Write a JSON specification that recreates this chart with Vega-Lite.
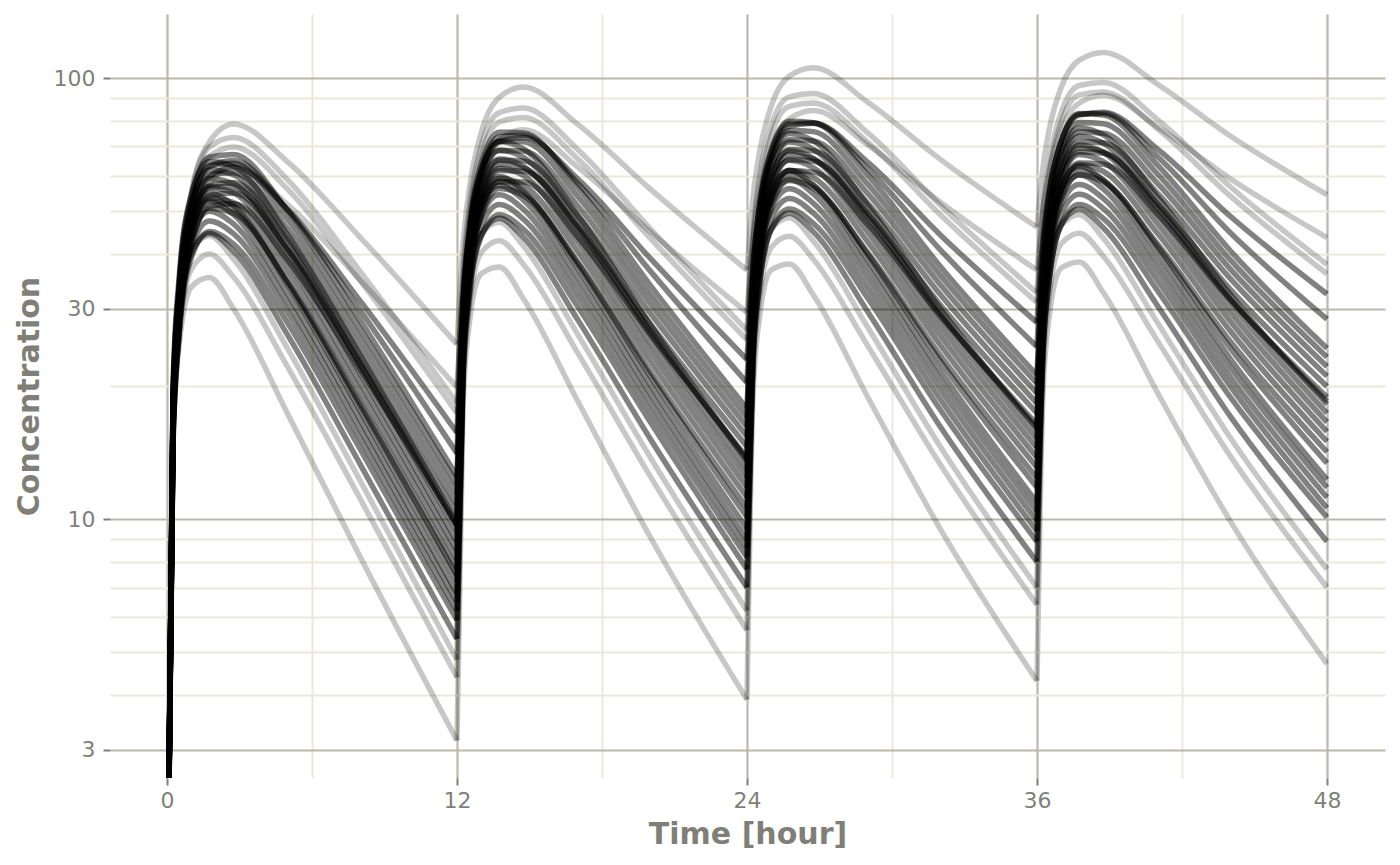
{
"$schema":"https://vega.github.io/schema/vega-lite/v6.json",
"width":1275,"height":764,
"autosize":{"type":"none"},
"padding":{"left":110,"top":14,"right":15,"bottom":87},
"background":"white",
"config":{"view":{"stroke":null},"font":"DejaVu Sans"},
"data":{"values":[
{"id":1,"d":1,"t":0,"c":1},{"id":1,"d":1,"t":0.25,"c":15.2},{"id":1,"d":1,"t":0.5,"c":24.7},{"id":1,"d":1,"t":1,"c":33.6},{"id":1,"d":1,"t":1.75,"c":35.3},{"id":1,"d":1,"t":2.75,"c":30.0},{"id":1,"d":1,"t":5,"c":17.3},{"id":1,"d":1,"t":8,"c":8.2},{"id":1,"d":1,"t":12,"c":3.15},{"id":1,"d":2,"t":12,"c":3.15},{"id":1,"d":2,"t":12.25,"c":18.1},{"id":1,"d":2,"t":12.5,"c":27.5},{"id":1,"d":2,"t":13,"c":36.0},{"id":1,"d":2,"t":13.75,"c":37.3},{"id":1,"d":2,"t":14.75,"c":31.6},{"id":1,"d":2,"t":17,"c":18.5},{"id":1,"d":2,"t":20,"c":9.1},{"id":1,"d":2,"t":24,"c":3.9},{"id":1,"d":3,"t":24,"c":3.9},{"id":1,"d":3,"t":24.25,"c":18.9},{"id":1,"d":3,"t":24.5,"c":28.2},{"id":1,"d":3,"t":25,"c":36.7},{"id":1,"d":3,"t":25.75,"c":37.9},{"id":1,"d":3,"t":26.75,"c":32.2},{"id":1,"d":3,"t":29,"c":18.9},{"id":1,"d":3,"t":32,"c":9.5},{"id":1,"d":3,"t":36,"c":4.3},{"id":1,"d":4,"t":36,"c":4.3},{"id":1,"d":4,"t":36.25,"c":19.3},{"id":1,"d":4,"t":36.5,"c":28.6},{"id":1,"d":4,"t":37,"c":37.1},{"id":1,"d":4,"t":37.75,"c":38.3},{"id":1,"d":4,"t":38.75,"c":32.6},{"id":1,"d":4,"t":41,"c":19.3},{"id":1,"d":4,"t":44,"c":9.9},{"id":1,"d":4,"t":48,"c":4.7},
{"id":2,"d":1,"t":0,"c":1},{"id":2,"d":1,"t":0.25,"c":15.7},{"id":2,"d":1,"t":0.5,"c":26.1},{"id":2,"d":1,"t":1,"c":36.8},{"id":2,"d":1,"t":1.75,"c":39.9},{"id":2,"d":1,"t":2.75,"c":35.4},{"id":2,"d":1,"t":5,"c":22.1},{"id":2,"d":1,"t":8,"c":11.1},{"id":2,"d":1,"t":12,"c":4.38},{"id":2,"d":2,"t":12,"c":4.38},{"id":2,"d":2,"t":12.25,"c":19.8},{"id":2,"d":2,"t":12.5,"c":30.0},{"id":2,"d":2,"t":13,"c":40.2},{"id":2,"d":2,"t":13.75,"c":42.8},{"id":2,"d":2,"t":14.75,"c":37.8},{"id":2,"d":2,"t":17,"c":23.8},{"id":2,"d":2,"t":20,"c":12.5},{"id":2,"d":2,"t":24,"c":5.6},{"id":2,"d":3,"t":24,"c":5.6},{"id":2,"d":3,"t":24.25,"c":21.0},{"id":2,"d":3,"t":24.5,"c":31.1},{"id":2,"d":3,"t":25,"c":41.3},{"id":2,"d":3,"t":25.75,"c":43.8},{"id":2,"d":3,"t":26.75,"c":38.8},{"id":2,"d":3,"t":29,"c":24.7},{"id":2,"d":3,"t":32,"c":13.3},{"id":2,"d":3,"t":36,"c":6.4},{"id":2,"d":4,"t":36,"c":6.4},{"id":2,"d":4,"t":36.25,"c":21.8},{"id":2,"d":4,"t":36.5,"c":31.9},{"id":2,"d":4,"t":37,"c":42.1},{"id":2,"d":4,"t":37.75,"c":44.5},{"id":2,"d":4,"t":38.75,"c":39.4},{"id":2,"d":4,"t":41,"c":25.3},{"id":2,"d":4,"t":44,"c":13.9},{"id":2,"d":4,"t":48,"c":7.0},
{"id":3,"d":1,"t":0,"c":1},{"id":3,"d":1,"t":0.25,"c":17.3},{"id":3,"d":1,"t":0.5,"c":28.7},{"id":3,"d":1,"t":1,"c":40.5},{"id":3,"d":1,"t":1.75,"c":43.9},{"id":3,"d":1,"t":2.75,"c":38.9},{"id":3,"d":1,"t":5,"c":24.3},{"id":3,"d":1,"t":8,"c":12.2},{"id":3,"d":1,"t":12,"c":4.8},{"id":3,"d":2,"t":12,"c":4.8},{"id":3,"d":2,"t":12.25,"c":21.8},{"id":3,"d":2,"t":12.5,"c":33.0},{"id":3,"d":2,"t":13,"c":44.2},{"id":3,"d":2,"t":13.75,"c":47.1},{"id":3,"d":2,"t":14.75,"c":41.6},{"id":3,"d":2,"t":17,"c":26.2},{"id":3,"d":2,"t":20,"c":13.8},{"id":3,"d":2,"t":24,"c":6.2},{"id":3,"d":3,"t":24,"c":6.2},{"id":3,"d":3,"t":24.25,"c":23.1},{"id":3,"d":3,"t":24.5,"c":34.2},{"id":3,"d":3,"t":25,"c":45.4},{"id":3,"d":3,"t":25.75,"c":48.2},{"id":3,"d":3,"t":26.75,"c":42.7},{"id":3,"d":3,"t":29,"c":27.2},{"id":3,"d":3,"t":32,"c":14.6},{"id":3,"d":3,"t":36,"c":7.0},{"id":3,"d":4,"t":36,"c":7.0},{"id":3,"d":4,"t":36.25,"c":24.0},{"id":3,"d":4,"t":36.5,"c":35.1},{"id":3,"d":4,"t":37,"c":46.3},{"id":3,"d":4,"t":37.75,"c":49.0},{"id":3,"d":4,"t":38.75,"c":43.3},{"id":3,"d":4,"t":41,"c":27.8},{"id":3,"d":4,"t":44,"c":15.3},{"id":3,"d":4,"t":48,"c":7.7},
{"id":4,"d":1,"t":0,"c":1},{"id":4,"d":1,"t":0.25,"c":15.4},{"id":4,"d":1,"t":0.5,"c":26.3},{"id":4,"d":1,"t":1,"c":39.1},{"id":4,"d":1,"t":1.75,"c":44.9},{"id":4,"d":1,"t":2.75,"c":42.0},{"id":4,"d":1,"t":5,"c":27.8},{"id":4,"d":1,"t":8,"c":14.4},{"id":4,"d":1,"t":12,"c":5.9},{"id":4,"d":2,"t":12,"c":5.9},{"id":4,"d":2,"t":12.25,"c":20.9},{"id":4,"d":2,"t":12.5,"c":31.5},{"id":4,"d":2,"t":13,"c":43.7},{"id":4,"d":2,"t":13.75,"c":49.0},{"id":4,"d":2,"t":14.75,"c":45.4},{"id":4,"d":2,"t":17,"c":30.3},{"id":4,"d":2,"t":20,"c":16.6},{"id":4,"d":2,"t":24,"c":7.7},{"id":4,"d":3,"t":24,"c":7.7},{"id":4,"d":3,"t":24.25,"c":22.8},{"id":4,"d":3,"t":24.5,"c":33.2},{"id":4,"d":3,"t":25,"c":45.4},{"id":4,"d":3,"t":25.75,"c":50.5},{"id":4,"d":3,"t":26.75,"c":46.8},{"id":4,"d":3,"t":29,"c":31.7},{"id":4,"d":3,"t":32,"c":17.7},{"id":4,"d":3,"t":36,"c":8.9},{"id":4,"d":4,"t":36,"c":8.9},{"id":4,"d":4,"t":36.25,"c":23.9},{"id":4,"d":4,"t":36.5,"c":34.4},{"id":4,"d":4,"t":37,"c":46.5},{"id":4,"d":4,"t":37.75,"c":51.7},{"id":4,"d":4,"t":38.75,"c":48.0},{"id":4,"d":4,"t":41,"c":32.9},{"id":4,"d":4,"t":44,"c":18.9},{"id":4,"d":4,"t":48,"c":10.1},
{"id":5,"d":1,"t":0,"c":1},{"id":5,"d":1,"t":0.25,"c":16.2},{"id":5,"d":1,"t":0.5,"c":27.7},{"id":5,"d":1,"t":1,"c":41.2},{"id":5,"d":1,"t":1.75,"c":47.4},{"id":5,"d":1,"t":2.75,"c":44.4},{"id":5,"d":1,"t":5,"c":29.4},{"id":5,"d":1,"t":8,"c":15.2},{"id":5,"d":1,"t":12,"c":6.2},{"id":5,"d":2,"t":12,"c":6.2},{"id":5,"d":2,"t":12.25,"c":22.0},{"id":5,"d":2,"t":12.5,"c":33.3},{"id":5,"d":2,"t":13,"c":46.2},{"id":5,"d":2,"t":13.75,"c":51.7},{"id":5,"d":2,"t":14.75,"c":47.9},{"id":5,"d":2,"t":17,"c":32.0},{"id":5,"d":2,"t":20,"c":17.5},{"id":5,"d":2,"t":24,"c":8.2},{"id":5,"d":3,"t":24,"c":8.2},{"id":5,"d":3,"t":24.25,"c":24.0},{"id":5,"d":3,"t":24.5,"c":35.1},{"id":5,"d":3,"t":25,"c":47.9},{"id":5,"d":3,"t":25.75,"c":53.3},{"id":5,"d":3,"t":26.75,"c":49.4},{"id":5,"d":3,"t":29,"c":33.4},{"id":5,"d":3,"t":32,"c":18.7},{"id":5,"d":3,"t":36,"c":9.4},{"id":5,"d":4,"t":36,"c":9.4},{"id":5,"d":4,"t":36.25,"c":25.3},{"id":5,"d":4,"t":36.5,"c":36.3},{"id":5,"d":4,"t":37,"c":49.1},{"id":5,"d":4,"t":37.75,"c":54.5},{"id":5,"d":4,"t":38.75,"c":50.6},{"id":5,"d":4,"t":41,"c":34.7},{"id":5,"d":4,"t":44,"c":20.0},{"id":5,"d":4,"t":48,"c":10.6},
{"id":6,"d":1,"t":0,"c":1},{"id":6,"d":1,"t":0.25,"c":17.1},{"id":6,"d":1,"t":0.5,"c":29.2},{"id":6,"d":1,"t":1,"c":43.4},{"id":6,"d":1,"t":1.75,"c":49.9},{"id":6,"d":1,"t":2.75,"c":46.7},{"id":6,"d":1,"t":5,"c":30.9},{"id":6,"d":1,"t":8,"c":16.0},{"id":6,"d":1,"t":12,"c":6.5},{"id":6,"d":2,"t":12,"c":6.5},{"id":6,"d":2,"t":12.25,"c":23.2},{"id":6,"d":2,"t":12.5,"c":35.0},{"id":6,"d":2,"t":13,"c":48.6},{"id":6,"d":2,"t":13.75,"c":54.4},{"id":6,"d":2,"t":14.75,"c":50.4},{"id":6,"d":2,"t":17,"c":33.7},{"id":6,"d":2,"t":20,"c":18.4},{"id":6,"d":2,"t":24,"c":8.6},{"id":6,"d":3,"t":24,"c":8.6},{"id":6,"d":3,"t":24.25,"c":25.3},{"id":6,"d":3,"t":24.5,"c":36.9},{"id":6,"d":3,"t":25,"c":50.4},{"id":6,"d":3,"t":25.75,"c":56.1},{"id":6,"d":3,"t":26.75,"c":52.0},{"id":6,"d":3,"t":29,"c":35.2},{"id":6,"d":3,"t":32,"c":19.7},{"id":6,"d":3,"t":36,"c":9.9},{"id":6,"d":4,"t":36,"c":9.9},{"id":6,"d":4,"t":36.25,"c":26.6},{"id":6,"d":4,"t":36.5,"c":38.2},{"id":6,"d":4,"t":37,"c":51.7},{"id":6,"d":4,"t":37.75,"c":57.4},{"id":6,"d":4,"t":38.75,"c":53.3},{"id":6,"d":4,"t":41,"c":36.5},{"id":6,"d":4,"t":44,"c":21.0},{"id":6,"d":4,"t":48,"c":11.2},
{"id":7,"d":1,"t":0,"c":1},{"id":7,"d":1,"t":0.25,"c":18.0},{"id":7,"d":1,"t":0.5,"c":30.7},{"id":7,"d":1,"t":1,"c":45.6},{"id":7,"d":1,"t":1.75,"c":52.4},{"id":7,"d":1,"t":2.75,"c":49.0},{"id":7,"d":1,"t":5,"c":32.4},{"id":7,"d":1,"t":8,"c":16.8},{"id":7,"d":1,"t":12,"c":6.8},{"id":7,"d":2,"t":12,"c":6.8},{"id":7,"d":2,"t":12.25,"c":24.4},{"id":7,"d":2,"t":12.5,"c":36.8},{"id":7,"d":2,"t":13,"c":51.0},{"id":7,"d":2,"t":13.75,"c":57.1},{"id":7,"d":2,"t":14.75,"c":52.9},{"id":7,"d":2,"t":17,"c":35.4},{"id":7,"d":2,"t":20,"c":19.3},{"id":7,"d":2,"t":24,"c":9.0},{"id":7,"d":3,"t":24,"c":9.0},{"id":7,"d":3,"t":24.25,"c":26.6},{"id":7,"d":3,"t":24.5,"c":38.7},{"id":7,"d":3,"t":25,"c":52.9},{"id":7,"d":3,"t":25.75,"c":58.9},{"id":7,"d":3,"t":26.75,"c":54.6},{"id":7,"d":3,"t":29,"c":37.0},{"id":7,"d":3,"t":32,"c":20.7},{"id":7,"d":3,"t":36,"c":10.4},{"id":7,"d":4,"t":36,"c":10.4},{"id":7,"d":4,"t":36.25,"c":27.9},{"id":7,"d":4,"t":36.5,"c":40.1},{"id":7,"d":4,"t":37,"c":54.3},{"id":7,"d":4,"t":37.75,"c":60.3},{"id":7,"d":4,"t":38.75,"c":56.0},{"id":7,"d":4,"t":41,"c":38.3},{"id":7,"d":4,"t":44,"c":22.1},{"id":7,"d":4,"t":48,"c":11.8},
{"id":8,"d":1,"t":0,"c":1},{"id":8,"d":1,"t":0.25,"c":18.8},{"id":8,"d":1,"t":0.5,"c":32.1},{"id":8,"d":1,"t":1,"c":47.7},{"id":8,"d":1,"t":1.75,"c":54.9},{"id":8,"d":1,"t":2.75,"c":51.4},{"id":8,"d":1,"t":5,"c":34.0},{"id":8,"d":1,"t":8,"c":17.6},{"id":8,"d":1,"t":12,"c":7.2},{"id":8,"d":2,"t":12,"c":7.2},{"id":8,"d":2,"t":12.25,"c":25.5},{"id":8,"d":2,"t":12.5,"c":38.5},{"id":8,"d":2,"t":13,"c":53.5},{"id":8,"d":2,"t":13.75,"c":59.8},{"id":8,"d":2,"t":14.75,"c":55.4},{"id":8,"d":2,"t":17,"c":37.1},{"id":8,"d":2,"t":20,"c":20.2},{"id":8,"d":2,"t":24,"c":9.5},{"id":8,"d":3,"t":24,"c":9.5},{"id":8,"d":3,"t":24.25,"c":27.8},{"id":8,"d":3,"t":24.5,"c":40.6},{"id":8,"d":3,"t":25,"c":55.4},{"id":8,"d":3,"t":25.75,"c":61.7},{"id":8,"d":3,"t":26.75,"c":57.2},{"id":8,"d":3,"t":29,"c":38.7},{"id":8,"d":3,"t":32,"c":21.7},{"id":8,"d":3,"t":36,"c":10.9},{"id":8,"d":4,"t":36,"c":10.9},{"id":8,"d":4,"t":36.25,"c":29.3},{"id":8,"d":4,"t":36.5,"c":42.0},{"id":8,"d":4,"t":37,"c":56.9},{"id":8,"d":4,"t":37.75,"c":63.1},{"id":8,"d":4,"t":38.75,"c":58.6},{"id":8,"d":4,"t":41,"c":40.2},{"id":8,"d":4,"t":44,"c":23.1},{"id":8,"d":4,"t":48,"c":12.3},
{"id":9,"d":1,"t":0,"c":1},{"id":9,"d":1,"t":0.25,"c":15.8},{"id":9,"d":1,"t":0.5,"c":27.6},{"id":9,"d":1,"t":1,"c":42.4},{"id":9,"d":1,"t":1.75,"c":50.7},{"id":9,"d":1,"t":2.75,"c":49.4},{"id":9,"d":1,"t":5,"c":34.5},{"id":9,"d":1,"t":8,"c":18.4},{"id":9,"d":1,"t":12,"c":7.7},{"id":9,"d":2,"t":12,"c":7.7},{"id":9,"d":2,"t":12.25,"c":23.1},{"id":9,"d":2,"t":12.5,"c":34.5},{"id":9,"d":2,"t":13,"c":48.6},{"id":9,"d":2,"t":13.75,"c":56.2},{"id":9,"d":2,"t":14.75,"c":54.1},{"id":9,"d":2,"t":17,"c":38.3},{"id":9,"d":2,"t":20,"c":21.6},{"id":9,"d":2,"t":24,"c":10.6},{"id":9,"d":3,"t":24,"c":10.6},{"id":9,"d":3,"t":24.25,"c":25.9},{"id":9,"d":3,"t":24.5,"c":37.3},{"id":9,"d":3,"t":25,"c":51.2},{"id":9,"d":3,"t":25.75,"c":58.6},{"id":9,"d":3,"t":26.75,"c":56.3},{"id":9,"d":3,"t":29,"c":40.2},{"id":9,"d":3,"t":32,"c":23.5},{"id":9,"d":3,"t":36,"c":12.4},{"id":9,"d":4,"t":36,"c":12.4},{"id":9,"d":4,"t":36.25,"c":27.7},{"id":9,"d":4,"t":36.5,"c":39.1},{"id":9,"d":4,"t":37,"c":53.0},{"id":9,"d":4,"t":37.75,"c":60.4},{"id":9,"d":4,"t":38.75,"c":58.1},{"id":9,"d":4,"t":41,"c":42.0},{"id":9,"d":4,"t":44,"c":25.3},{"id":9,"d":4,"t":48,"c":14.2},
{"id":10,"d":1,"t":0,"c":1},{"id":10,"d":1,"t":0.25,"c":16.7},{"id":10,"d":1,"t":0.5,"c":29.2},{"id":10,"d":1,"t":1,"c":44.7},{"id":10,"d":1,"t":1.75,"c":53.5},{"id":10,"d":1,"t":2.75,"c":52.2},{"id":10,"d":1,"t":5,"c":36.4},{"id":10,"d":1,"t":8,"c":19.4},{"id":10,"d":1,"t":12,"c":8.1},{"id":10,"d":2,"t":12,"c":8.1},{"id":10,"d":2,"t":12.25,"c":24.4},{"id":10,"d":2,"t":12.5,"c":36.4},{"id":10,"d":2,"t":13,"c":51.3},{"id":10,"d":2,"t":13.75,"c":59.3},{"id":10,"d":2,"t":14.75,"c":57.1},{"id":10,"d":2,"t":17,"c":40.4},{"id":10,"d":2,"t":20,"c":22.8},{"id":10,"d":2,"t":24,"c":11.2},{"id":10,"d":3,"t":24,"c":11.2},{"id":10,"d":3,"t":24.25,"c":27.4},{"id":10,"d":3,"t":24.5,"c":39.3},{"id":10,"d":3,"t":25,"c":54.1},{"id":10,"d":3,"t":25.75,"c":61.8},{"id":10,"d":3,"t":26.75,"c":59.5},{"id":10,"d":3,"t":29,"c":42.5},{"id":10,"d":3,"t":32,"c":24.8},{"id":10,"d":3,"t":36,"c":13.1},{"id":10,"d":4,"t":36,"c":13.1},{"id":10,"d":4,"t":36.25,"c":29.3},{"id":10,"d":4,"t":36.5,"c":41.2},{"id":10,"d":4,"t":37,"c":56.0},{"id":10,"d":4,"t":37.75,"c":63.7},{"id":10,"d":4,"t":38.75,"c":61.4},{"id":10,"d":4,"t":41,"c":44.4},{"id":10,"d":4,"t":44,"c":26.7},{"id":10,"d":4,"t":48,"c":15.0},
{"id":11,"d":1,"t":0,"c":1},{"id":11,"d":1,"t":0.25,"c":17.6},{"id":11,"d":1,"t":0.5,"c":30.7},{"id":11,"d":1,"t":1,"c":47.1},{"id":11,"d":1,"t":1.75,"c":56.3},{"id":11,"d":1,"t":2.75,"c":54.9},{"id":11,"d":1,"t":5,"c":38.3},{"id":11,"d":1,"t":8,"c":20.4},{"id":11,"d":1,"t":12,"c":8.5},{"id":11,"d":2,"t":12,"c":8.5},{"id":11,"d":2,"t":12.25,"c":25.7},{"id":11,"d":2,"t":12.5,"c":38.3},{"id":11,"d":2,"t":13,"c":54.0},{"id":11,"d":2,"t":13.75,"c":62.4},{"id":11,"d":2,"t":14.75,"c":60.1},{"id":11,"d":2,"t":17,"c":42.5},{"id":11,"d":2,"t":20,"c":24.0},{"id":11,"d":2,"t":24,"c":11.8},{"id":11,"d":3,"t":24,"c":11.8},{"id":11,"d":3,"t":24.25,"c":28.8},{"id":11,"d":3,"t":24.5,"c":41.4},{"id":11,"d":3,"t":25,"c":56.9},{"id":11,"d":3,"t":25.75,"c":65.1},{"id":11,"d":3,"t":26.75,"c":62.6},{"id":11,"d":3,"t":29,"c":44.7},{"id":11,"d":3,"t":32,"c":26.1},{"id":11,"d":3,"t":36,"c":13.8},{"id":11,"d":4,"t":36,"c":13.8},{"id":11,"d":4,"t":36.25,"c":30.8},{"id":11,"d":4,"t":36.5,"c":43.4},{"id":11,"d":4,"t":37,"c":58.9},{"id":11,"d":4,"t":37.75,"c":67.1},{"id":11,"d":4,"t":38.75,"c":64.6},{"id":11,"d":4,"t":41,"c":46.7},{"id":11,"d":4,"t":44,"c":28.1},{"id":11,"d":4,"t":48,"c":15.8},
{"id":12,"d":1,"t":0,"c":1},{"id":12,"d":1,"t":0.25,"c":18.5},{"id":12,"d":1,"t":0.5,"c":32.2},{"id":12,"d":1,"t":1,"c":49.5},{"id":12,"d":1,"t":1.75,"c":59.1},{"id":12,"d":1,"t":2.75,"c":57.6},{"id":12,"d":1,"t":5,"c":40.2},{"id":12,"d":1,"t":8,"c":21.4},{"id":12,"d":1,"t":12,"c":8.9},{"id":12,"d":2,"t":12,"c":8.9},{"id":12,"d":2,"t":12.25,"c":27.0},{"id":12,"d":2,"t":12.5,"c":40.2},{"id":12,"d":2,"t":13,"c":56.7},{"id":12,"d":2,"t":13.75,"c":65.5},{"id":12,"d":2,"t":14.75,"c":63.1},{"id":12,"d":2,"t":17,"c":44.6},{"id":12,"d":2,"t":20,"c":25.2},{"id":12,"d":2,"t":24,"c":12.4},{"id":12,"d":3,"t":24,"c":12.4},{"id":12,"d":3,"t":24.25,"c":30.2},{"id":12,"d":3,"t":24.5,"c":43.5},{"id":12,"d":3,"t":25,"c":59.7},{"id":12,"d":3,"t":25.75,"c":68.4},{"id":12,"d":3,"t":26.75,"c":65.7},{"id":12,"d":3,"t":29,"c":46.9},{"id":12,"d":3,"t":32,"c":27.4},{"id":12,"d":3,"t":36,"c":14.5},{"id":12,"d":4,"t":36,"c":14.5},{"id":12,"d":4,"t":36.25,"c":32.3},{"id":12,"d":4,"t":36.5,"c":45.6},{"id":12,"d":4,"t":37,"c":61.8},{"id":12,"d":4,"t":37.75,"c":70.5},{"id":12,"d":4,"t":38.75,"c":67.8},{"id":12,"d":4,"t":41,"c":49.0},{"id":12,"d":4,"t":44,"c":29.5},{"id":12,"d":4,"t":48,"c":16.6},
{"id":13,"d":1,"t":0,"c":1},{"id":13,"d":1,"t":0.25,"c":19.4},{"id":13,"d":1,"t":0.5,"c":33.8},{"id":13,"d":1,"t":1,"c":51.8},{"id":13,"d":1,"t":1.75,"c":61.9},{"id":13,"d":1,"t":2.75,"c":60.4},{"id":13,"d":1,"t":5,"c":42.1},{"id":13,"d":1,"t":8,"c":22.4},{"id":13,"d":1,"t":12,"c":9.4},{"id":13,"d":2,"t":12,"c":9.4},{"id":13,"d":2,"t":12.25,"c":28.3},{"id":13,"d":2,"t":12.5,"c":42.1},{"id":13,"d":2,"t":13,"c":59.4},{"id":13,"d":2,"t":13.75,"c":68.6},{"id":13,"d":2,"t":14.75,"c":66.1},{"id":13,"d":2,"t":17,"c":46.8},{"id":13,"d":2,"t":20,"c":26.4},{"id":13,"d":2,"t":24,"c":13.0},{"id":13,"d":3,"t":24,"c":13.0},{"id":13,"d":3,"t":24.25,"c":31.7},{"id":13,"d":3,"t":24.5,"c":45.5},{"id":13,"d":3,"t":25,"c":62.6},{"id":13,"d":3,"t":25.75,"c":71.6},{"id":13,"d":3,"t":26.75,"c":68.9},{"id":13,"d":3,"t":29,"c":49.2},{"id":13,"d":3,"t":32,"c":28.7},{"id":13,"d":3,"t":36,"c":15.2},{"id":13,"d":4,"t":36,"c":15.2},{"id":13,"d":4,"t":36.25,"c":33.9},{"id":13,"d":4,"t":36.5,"c":47.7},{"id":13,"d":4,"t":37,"c":64.8},{"id":13,"d":4,"t":37.75,"c":73.8},{"id":13,"d":4,"t":38.75,"c":71.1},{"id":13,"d":4,"t":41,"c":51.4},{"id":13,"d":4,"t":44,"c":30.9},{"id":13,"d":4,"t":48,"c":17.4},
{"id":14,"d":1,"t":0,"c":1},{"id":14,"d":1,"t":0.25,"c":20.2},{"id":14,"d":1,"t":0.5,"c":35.3},{"id":14,"d":1,"t":1,"c":54.2},{"id":14,"d":1,"t":1.75,"c":64.7},{"id":14,"d":1,"t":2.75,"c":63.1},{"id":14,"d":1,"t":5,"c":44.0},{"id":14,"d":1,"t":8,"c":23.5},{"id":14,"d":1,"t":12,"c":9.8},{"id":14,"d":2,"t":12,"c":9.8},{"id":14,"d":2,"t":12.25,"c":29.6},{"id":14,"d":2,"t":12.5,"c":44.0},{"id":14,"d":2,"t":13,"c":62.1},{"id":14,"d":2,"t":13.75,"c":71.8},{"id":14,"d":2,"t":14.75,"c":69.1},{"id":14,"d":2,"t":17,"c":48.9},{"id":14,"d":2,"t":20,"c":27.6},{"id":14,"d":2,"t":24,"c":13.6},{"id":14,"d":3,"t":24,"c":13.6},{"id":14,"d":3,"t":24.25,"c":33.1},{"id":14,"d":3,"t":24.5,"c":47.6},{"id":14,"d":3,"t":25,"c":65.4},{"id":14,"d":3,"t":25.75,"c":74.9},{"id":14,"d":3,"t":26.75,"c":72.0},{"id":14,"d":3,"t":29,"c":51.4},{"id":14,"d":3,"t":32,"c":30.0},{"id":14,"d":3,"t":36,"c":15.9},{"id":14,"d":4,"t":36,"c":15.9},{"id":14,"d":4,"t":36.25,"c":35.4},{"id":14,"d":4,"t":36.5,"c":49.9},{"id":14,"d":4,"t":37,"c":67.7},{"id":14,"d":4,"t":37.75,"c":77.2},{"id":14,"d":4,"t":38.75,"c":74.3},{"id":14,"d":4,"t":41,"c":53.7},{"id":14,"d":4,"t":44,"c":32.3},{"id":14,"d":4,"t":48,"c":18.2},
{"id":15,"d":1,"t":0,"c":1},{"id":15,"d":1,"t":0.25,"c":14.9},{"id":15,"d":1,"t":0.5,"c":26.3},{"id":15,"d":1,"t":1,"c":41.4},{"id":15,"d":1,"t":1.75,"c":51.2},{"id":15,"d":1,"t":2.75,"c":51.9},{"id":15,"d":1,"t":5,"c":38.6},{"id":15,"d":1,"t":8,"c":21.8},{"id":15,"d":1,"t":12,"c":9.7},{"id":15,"d":2,"t":12,"c":9.7},{"id":15,"d":2,"t":12.25,"c":24.1},{"id":15,"d":2,"t":12.5,"c":35.0},{"id":15,"d":2,"t":13,"c":49.4},{"id":15,"d":2,"t":13.75,"c":58.2},{"id":15,"d":2,"t":14.75,"c":58.1},{"id":15,"d":2,"t":17,"c":43.6},{"id":15,"d":2,"t":20,"c":26.2},{"id":15,"d":2,"t":24,"c":13.8},{"id":15,"d":3,"t":24,"c":13.8},{"id":15,"d":3,"t":24.25,"c":28.1},{"id":15,"d":3,"t":24.5,"c":38.8},{"id":15,"d":3,"t":25,"c":53.0},{"id":15,"d":3,"t":25.75,"c":61.6},{"id":15,"d":3,"t":26.75,"c":61.2},{"id":15,"d":3,"t":29,"c":46.5},{"id":15,"d":3,"t":32,"c":28.9},{"id":15,"d":3,"t":36,"c":16.4},{"id":15,"d":4,"t":36,"c":16.4},{"id":15,"d":4,"t":36.25,"c":30.7},{"id":15,"d":4,"t":36.5,"c":41.5},{"id":15,"d":4,"t":37,"c":55.6},{"id":15,"d":4,"t":37.75,"c":64.2},{"id":15,"d":4,"t":38.75,"c":63.8},{"id":15,"d":4,"t":41,"c":49.0},{"id":15,"d":4,"t":44,"c":31.4},{"id":15,"d":4,"t":48,"c":18.9},
{"id":16,"d":1,"t":0,"c":1},{"id":16,"d":1,"t":0.25,"c":15.8},{"id":16,"d":1,"t":0.5,"c":27.8},{"id":16,"d":1,"t":1,"c":43.8},{"id":16,"d":1,"t":1.75,"c":54.2},{"id":16,"d":1,"t":2.75,"c":54.9},{"id":16,"d":1,"t":5,"c":40.9},{"id":16,"d":1,"t":8,"c":23.0},{"id":16,"d":1,"t":12,"c":10.3},{"id":16,"d":2,"t":12,"c":10.3},{"id":16,"d":2,"t":12.25,"c":25.5},{"id":16,"d":2,"t":12.5,"c":37.1},{"id":16,"d":2,"t":13,"c":52.3},{"id":16,"d":2,"t":13.75,"c":61.7},{"id":16,"d":2,"t":14.75,"c":61.5},{"id":16,"d":2,"t":17,"c":46.2},{"id":16,"d":2,"t":20,"c":27.7},{"id":16,"d":2,"t":24,"c":14.6},{"id":16,"d":3,"t":24,"c":14.6},{"id":16,"d":3,"t":24.25,"c":29.7},{"id":16,"d":3,"t":24.5,"c":41.1},{"id":16,"d":3,"t":25,"c":56.2},{"id":16,"d":3,"t":25.75,"c":65.3},{"id":16,"d":3,"t":26.75,"c":64.8},{"id":16,"d":3,"t":29,"c":49.2},{"id":16,"d":3,"t":32,"c":30.6},{"id":16,"d":3,"t":36,"c":17.4},{"id":16,"d":4,"t":36,"c":17.4},{"id":16,"d":4,"t":36.25,"c":32.5},{"id":16,"d":4,"t":36.5,"c":43.9},{"id":16,"d":4,"t":37,"c":58.9},{"id":16,"d":4,"t":37.75,"c":68.0},{"id":16,"d":4,"t":38.75,"c":67.5},{"id":16,"d":4,"t":41,"c":51.8},{"id":16,"d":4,"t":44,"c":33.2},{"id":16,"d":4,"t":48,"c":20.0},
{"id":17,"d":1,"t":0,"c":1},{"id":17,"d":1,"t":0.25,"c":16.6},{"id":17,"d":1,"t":0.5,"c":29.4},{"id":17,"d":1,"t":1,"c":46.3},{"id":17,"d":1,"t":1.75,"c":57.2},{"id":17,"d":1,"t":2.75,"c":58.0},{"id":17,"d":1,"t":5,"c":43.1},{"id":17,"d":1,"t":8,"c":24.3},{"id":17,"d":1,"t":12,"c":10.8},{"id":17,"d":2,"t":12,"c":10.8},{"id":17,"d":2,"t":12.25,"c":26.9},{"id":17,"d":2,"t":12.5,"c":39.1},{"id":17,"d":2,"t":13,"c":55.2},{"id":17,"d":2,"t":13.75,"c":65.1},{"id":17,"d":2,"t":14.75,"c":64.9},{"id":17,"d":2,"t":17,"c":48.7},{"id":17,"d":2,"t":20,"c":29.3},{"id":17,"d":2,"t":24,"c":15.4},{"id":17,"d":3,"t":24,"c":15.4},{"id":17,"d":3,"t":24.25,"c":31.4},{"id":17,"d":3,"t":24.5,"c":43.4},{"id":17,"d":3,"t":25,"c":59.3},{"id":17,"d":3,"t":25.75,"c":68.9},{"id":17,"d":3,"t":26.75,"c":68.4},{"id":17,"d":3,"t":29,"c":52.0},{"id":17,"d":3,"t":32,"c":32.3},{"id":17,"d":3,"t":36,"c":18.3},{"id":17,"d":4,"t":36,"c":18.3},{"id":17,"d":4,"t":36.25,"c":34.3},{"id":17,"d":4,"t":36.5,"c":46.4},{"id":17,"d":4,"t":37,"c":62.1},{"id":17,"d":4,"t":37.75,"c":71.7},{"id":17,"d":4,"t":38.75,"c":71.3},{"id":17,"d":4,"t":41,"c":54.7},{"id":17,"d":4,"t":44,"c":35.1},{"id":17,"d":4,"t":48,"c":21.1},
{"id":18,"d":1,"t":0,"c":1},{"id":18,"d":1,"t":0.25,"c":17.5},{"id":18,"d":1,"t":0.5,"c":30.9},{"id":18,"d":1,"t":1,"c":48.7},{"id":18,"d":1,"t":1.75,"c":60.2},{"id":18,"d":1,"t":2.75,"c":61.0},{"id":18,"d":1,"t":5,"c":45.4},{"id":18,"d":1,"t":8,"c":25.6},{"id":18,"d":1,"t":12,"c":11.4},{"id":18,"d":2,"t":12,"c":11.4},{"id":18,"d":2,"t":12.25,"c":28.3},{"id":18,"d":2,"t":12.5,"c":41.2},{"id":18,"d":2,"t":13,"c":58.1},{"id":18,"d":2,"t":13.75,"c":68.5},{"id":18,"d":2,"t":14.75,"c":68.3},{"id":18,"d":2,"t":17,"c":51.3},{"id":18,"d":2,"t":20,"c":30.8},{"id":18,"d":2,"t":24,"c":16.2},{"id":18,"d":3,"t":24,"c":16.2},{"id":18,"d":3,"t":24.25,"c":33.0},{"id":18,"d":3,"t":24.5,"c":45.7},{"id":18,"d":3,"t":25,"c":62.4},{"id":18,"d":3,"t":25.75,"c":72.5},{"id":18,"d":3,"t":26.75,"c":72.0},{"id":18,"d":3,"t":29,"c":54.7},{"id":18,"d":3,"t":32,"c":34.0},{"id":18,"d":3,"t":36,"c":19.3},{"id":18,"d":4,"t":36,"c":19.3},{"id":18,"d":4,"t":36.25,"c":36.1},{"id":18,"d":4,"t":36.5,"c":48.8},{"id":18,"d":4,"t":37,"c":65.4},{"id":18,"d":4,"t":37.75,"c":75.5},{"id":18,"d":4,"t":38.75,"c":75.0},{"id":18,"d":4,"t":41,"c":57.6},{"id":18,"d":4,"t":44,"c":36.9},{"id":18,"d":4,"t":48,"c":22.2},
{"id":19,"d":1,"t":0,"c":1},{"id":19,"d":1,"t":0.25,"c":18.4},{"id":19,"d":1,"t":0.5,"c":32.4},{"id":19,"d":1,"t":1,"c":51.1},{"id":19,"d":1,"t":1.75,"c":63.2},{"id":19,"d":1,"t":2.75,"c":64.1},{"id":19,"d":1,"t":5,"c":47.7},{"id":19,"d":1,"t":8,"c":26.9},{"id":19,"d":1,"t":12,"c":12.0},{"id":19,"d":2,"t":12,"c":12.0},{"id":19,"d":2,"t":12.25,"c":29.7},{"id":19,"d":2,"t":12.5,"c":43.3},{"id":19,"d":2,"t":13,"c":61.0},{"id":19,"d":2,"t":13.75,"c":71.9},{"id":19,"d":2,"t":14.75,"c":71.7},{"id":19,"d":2,"t":17,"c":53.9},{"id":19,"d":2,"t":20,"c":32.3},{"id":19,"d":2,"t":24,"c":17.0},{"id":19,"d":3,"t":24,"c":17.0},{"id":19,"d":3,"t":24.25,"c":34.7},{"id":19,"d":3,"t":24.5,"c":48.0},{"id":19,"d":3,"t":25,"c":65.5},{"id":19,"d":3,"t":25.75,"c":76.1},{"id":19,"d":3,"t":26.75,"c":75.6},{"id":19,"d":3,"t":29,"c":57.4},{"id":19,"d":3,"t":32,"c":35.7},{"id":19,"d":3,"t":36,"c":20.3},{"id":19,"d":4,"t":36,"c":20.3},{"id":19,"d":4,"t":36.25,"c":37.9},{"id":19,"d":4,"t":36.5,"c":51.2},{"id":19,"d":4,"t":37,"c":68.7},{"id":19,"d":4,"t":37.75,"c":79.3},{"id":19,"d":4,"t":38.75,"c":78.8},{"id":19,"d":4,"t":41,"c":60.5},{"id":19,"d":4,"t":44,"c":38.7},{"id":19,"d":4,"t":48,"c":23.3},
{"id":20,"d":1,"t":0,"c":1},{"id":20,"d":1,"t":0.25,"c":19.3},{"id":20,"d":1,"t":0.5,"c":34.0},{"id":20,"d":1,"t":1,"c":53.6},{"id":20,"d":1,"t":1.75,"c":66.2},{"id":20,"d":1,"t":2.75,"c":67.1},{"id":20,"d":1,"t":5,"c":49.9},{"id":20,"d":1,"t":8,"c":28.2},{"id":20,"d":1,"t":12,"c":12.5},{"id":20,"d":2,"t":12,"c":12.5},{"id":20,"d":2,"t":12.25,"c":31.1},{"id":20,"d":2,"t":12.5,"c":45.3},{"id":20,"d":2,"t":13,"c":63.9},{"id":20,"d":2,"t":13.75,"c":75.4},{"id":20,"d":2,"t":14.75,"c":75.1},{"id":20,"d":2,"t":17,"c":56.4},{"id":20,"d":2,"t":20,"c":33.9},{"id":20,"d":2,"t":24,"c":17.8},{"id":20,"d":3,"t":24,"c":17.8},{"id":20,"d":3,"t":24.25,"c":36.3},{"id":20,"d":3,"t":24.5,"c":50.3},{"id":20,"d":3,"t":25,"c":68.6},{"id":20,"d":3,"t":25.75,"c":79.8},{"id":20,"d":3,"t":26.75,"c":79.2},{"id":20,"d":3,"t":29,"c":60.2},{"id":20,"d":3,"t":32,"c":37.4},{"id":20,"d":3,"t":36,"c":21.2},{"id":20,"d":4,"t":36,"c":21.2},{"id":20,"d":4,"t":36.25,"c":39.7},{"id":20,"d":4,"t":36.5,"c":53.7},{"id":20,"d":4,"t":37,"c":71.9},{"id":20,"d":4,"t":37.75,"c":83.1},{"id":20,"d":4,"t":38.75,"c":82.5},{"id":20,"d":4,"t":41,"c":63.4},{"id":20,"d":4,"t":44,"c":40.6},{"id":20,"d":4,"t":48,"c":24.4},
{"id":21,"d":1,"t":0,"c":1},{"id":21,"d":1,"t":0.25,"c":16.4},{"id":21,"d":1,"t":0.5,"c":29.3},{"id":21,"d":1,"t":1,"c":47.0},{"id":21,"d":1,"t":1.75,"c":59.8},{"id":21,"d":1,"t":2.75,"c":62.8},{"id":21,"d":1,"t":5,"c":50.3},{"id":21,"d":1,"t":8,"c":31.2},{"id":21,"d":1,"t":12,"c":15.7},{"id":21,"d":2,"t":12,"c":15.7},{"id":21,"d":2,"t":12.25,"c":31.3},{"id":21,"d":2,"t":12.5,"c":43.6},{"id":21,"d":2,"t":13,"c":60.1},{"id":21,"d":2,"t":13.75,"c":71.6},{"id":21,"d":2,"t":14.75,"c":73.3},{"id":21,"d":2,"t":17,"c":59.0},{"id":21,"d":2,"t":20,"c":39.0},{"id":21,"d":2,"t":24,"c":23.0},{"id":21,"d":3,"t":24,"c":23.0},{"id":21,"d":3,"t":24.25,"c":38.4},{"id":21,"d":3,"t":24.5,"c":50.4},{"id":21,"d":3,"t":25,"c":66.7},{"id":21,"d":3,"t":25.75,"c":77.7},{"id":21,"d":3,"t":26.75,"c":79.0},{"id":21,"d":3,"t":29,"c":64.4},{"id":21,"d":3,"t":32,"c":44.1},{"id":21,"d":3,"t":36,"c":27.9},{"id":21,"d":4,"t":36,"c":27.9},{"id":21,"d":4,"t":36.25,"c":43.3},{"id":21,"d":4,"t":36.5,"c":55.4},{"id":21,"d":4,"t":37,"c":71.6},{"id":21,"d":4,"t":37.75,"c":82.4},{"id":21,"d":4,"t":38.75,"c":83.7},{"id":21,"d":4,"t":41,"c":68.9},{"id":21,"d":4,"t":44,"c":48.6},{"id":21,"d":4,"t":48,"c":32.4},
{"id":22,"d":1,"t":0,"c":1},{"id":22,"d":1,"t":0.25,"c":18.2},{"id":22,"d":1,"t":0.5,"c":32.5},{"id":22,"d":1,"t":1,"c":52.2},{"id":22,"d":1,"t":1.75,"c":66.4},{"id":22,"d":1,"t":2.75,"c":69.8},{"id":22,"d":1,"t":5,"c":55.9},{"id":22,"d":1,"t":8,"c":34.7},{"id":22,"d":1,"t":12,"c":17.4},{"id":22,"d":2,"t":12,"c":17.4},{"id":22,"d":2,"t":12.25,"c":34.8},{"id":22,"d":2,"t":12.5,"c":48.4},{"id":22,"d":2,"t":13,"c":66.8},{"id":22,"d":2,"t":13.75,"c":79.5},{"id":22,"d":2,"t":14.75,"c":81.4},{"id":22,"d":2,"t":17,"c":65.5},{"id":22,"d":2,"t":20,"c":43.3},{"id":22,"d":2,"t":24,"c":25.5},{"id":22,"d":3,"t":24,"c":25.5},{"id":22,"d":3,"t":24.25,"c":42.7},{"id":22,"d":3,"t":24.5,"c":56.0},{"id":22,"d":3,"t":25,"c":74.1},{"id":22,"d":3,"t":25.75,"c":86.3},{"id":22,"d":3,"t":26.75,"c":87.8},{"id":22,"d":3,"t":29,"c":71.5},{"id":22,"d":3,"t":32,"c":49.0},{"id":22,"d":3,"t":36,"c":31.0},{"id":22,"d":4,"t":36,"c":31.0},{"id":22,"d":4,"t":36.25,"c":48.1},{"id":22,"d":4,"t":36.5,"c":61.5},{"id":22,"d":4,"t":37,"c":79.5},{"id":22,"d":4,"t":37.75,"c":91.6},{"id":22,"d":4,"t":38.75,"c":93.0},{"id":22,"d":4,"t":41,"c":76.6},{"id":22,"d":4,"t":44,"c":54.0},{"id":22,"d":4,"t":48,"c":36.0},
{"id":23,"d":1,"t":0,"c":1},{"id":23,"d":1,"t":0.25,"c":19.1},{"id":23,"d":1,"t":0.5,"c":34.1},{"id":23,"d":1,"t":1,"c":54.8},{"id":23,"d":1,"t":1.75,"c":69.7},{"id":23,"d":1,"t":2.75,"c":73.3},{"id":23,"d":1,"t":5,"c":58.7},{"id":23,"d":1,"t":8,"c":36.4},{"id":23,"d":1,"t":12,"c":18.3},{"id":23,"d":2,"t":12,"c":18.3},{"id":23,"d":2,"t":12.25,"c":36.5},{"id":23,"d":2,"t":12.5,"c":50.8},{"id":23,"d":2,"t":13,"c":70.1},{"id":23,"d":2,"t":13.75,"c":83.5},{"id":23,"d":2,"t":14.75,"c":85.5},{"id":23,"d":2,"t":17,"c":68.8},{"id":23,"d":2,"t":20,"c":45.5},{"id":23,"d":2,"t":24,"c":26.8},{"id":23,"d":3,"t":24,"c":26.8},{"id":23,"d":3,"t":24.25,"c":44.8},{"id":23,"d":3,"t":24.5,"c":58.8},{"id":23,"d":3,"t":25,"c":77.8},{"id":23,"d":3,"t":25.75,"c":90.6},{"id":23,"d":3,"t":26.75,"c":92.2},{"id":23,"d":3,"t":29,"c":75.1},{"id":23,"d":3,"t":32,"c":51.5},{"id":23,"d":3,"t":36,"c":32.6},{"id":23,"d":4,"t":36,"c":32.6},{"id":23,"d":4,"t":36.25,"c":50.5},{"id":23,"d":4,"t":36.5,"c":64.6},{"id":23,"d":4,"t":37,"c":83.5},{"id":23,"d":4,"t":37.75,"c":96.2},{"id":23,"d":4,"t":38.75,"c":97.7},{"id":23,"d":4,"t":41,"c":80.4},{"id":23,"d":4,"t":44,"c":56.7},{"id":23,"d":4,"t":48,"c":37.8},
{"id":24,"d":1,"t":0,"c":1},{"id":24,"d":1,"t":0.25,"c":14.7},{"id":24,"d":1,"t":0.5,"c":26.4},{"id":24,"d":1,"t":1,"c":43.4},{"id":24,"d":1,"t":1.75,"c":57.3},{"id":24,"d":1,"t":2.75,"c":63.0},{"id":24,"d":1,"t":5,"c":51.6},{"id":24,"d":1,"t":8,"c":34.8},{"id":24,"d":1,"t":12,"c":19.9},{"id":24,"d":2,"t":12,"c":19.9},{"id":24,"d":2,"t":12.25,"c":33.8},{"id":24,"d":2,"t":12.5,"c":44.6},{"id":24,"d":2,"t":13,"c":60.2},{"id":24,"d":2,"t":13.75,"c":72.3},{"id":24,"d":2,"t":14.75,"c":76.3},{"id":24,"d":2,"t":17,"c":62.8},{"id":24,"d":2,"t":20,"c":44.8},{"id":24,"d":2,"t":24,"c":29.4},{"id":24,"d":3,"t":24,"c":29.4},{"id":24,"d":3,"t":24.25,"c":43.0},{"id":24,"d":3,"t":24.5,"c":53.7},{"id":24,"d":3,"t":25,"c":69.0},{"id":24,"d":3,"t":25.75,"c":80.8},{"id":24,"d":3,"t":26.75,"c":84.4},{"id":24,"d":3,"t":29,"c":70.5},{"id":24,"d":3,"t":32,"c":52.3},{"id":24,"d":3,"t":36,"c":36.7},{"id":24,"d":4,"t":36,"c":36.7},{"id":24,"d":4,"t":36.25,"c":50.3},{"id":24,"d":4,"t":36.5,"c":61.0},{"id":24,"d":4,"t":37,"c":76.2},{"id":24,"d":4,"t":37.75,"c":87.8},{"id":24,"d":4,"t":38.75,"c":91.4},{"id":24,"d":4,"t":41,"c":77.4},{"id":24,"d":4,"t":44,"c":59.1},{"id":24,"d":4,"t":48,"c":43.5},
{"id":25,"d":1,"t":0,"c":1},{"id":25,"d":1,"t":0.25,"c":18.4},{"id":25,"d":1,"t":0.5,"c":33.0},{"id":25,"d":1,"t":1,"c":54.3},{"id":25,"d":1,"t":1.75,"c":71.6},{"id":25,"d":1,"t":2.75,"c":78.7},{"id":25,"d":1,"t":5,"c":64.5},{"id":25,"d":1,"t":8,"c":43.5},{"id":25,"d":1,"t":12,"c":24.9},{"id":25,"d":2,"t":12,"c":24.9},{"id":25,"d":2,"t":12.25,"c":42.2},{"id":25,"d":2,"t":12.5,"c":55.7},{"id":25,"d":2,"t":13,"c":75.2},{"id":25,"d":2,"t":13.75,"c":90.4},{"id":25,"d":2,"t":14.75,"c":95.4},{"id":25,"d":2,"t":17,"c":78.5},{"id":25,"d":2,"t":20,"c":56.0},{"id":25,"d":2,"t":24,"c":36.7},{"id":25,"d":3,"t":24,"c":36.7},{"id":25,"d":3,"t":24.25,"c":53.8},{"id":25,"d":3,"t":24.5,"c":67.1},{"id":25,"d":3,"t":25,"c":86.3},{"id":25,"d":3,"t":25.75,"c":101.0},{"id":25,"d":3,"t":26.75,"c":105.5},{"id":25,"d":3,"t":29,"c":88.1},{"id":25,"d":3,"t":32,"c":65.4},{"id":25,"d":3,"t":36,"c":45.9},{"id":25,"d":4,"t":36,"c":45.9},{"id":25,"d":4,"t":36.25,"c":62.9},{"id":25,"d":4,"t":36.5,"c":76.2},{"id":25,"d":4,"t":37,"c":95.2},{"id":25,"d":4,"t":37.75,"c":109.8},{"id":25,"d":4,"t":38.75,"c":114.3},{"id":25,"d":4,"t":41,"c":96.7},{"id":25,"d":4,"t":44,"c":73.9},{"id":25,"d":4,"t":48,"c":54.4},
{"id":26,"d":1,"t":0,"c":1},{"id":26,"d":1,"t":0.25,"c":17.9},{"id":26,"d":1,"t":0.5,"c":31.7},{"id":26,"d":1,"t":1,"c":50.3},{"id":26,"d":1,"t":1.75,"c":63.0},{"id":26,"d":1,"t":2.75,"c":65.0},{"id":26,"d":1,"t":5,"c":50.1},{"id":26,"d":1,"t":8,"c":29.7},{"id":26,"d":1,"t":12,"c":14.1},{"id":26,"d":2,"t":12,"c":14.1},{"id":26,"d":2,"t":12.25,"c":31.2},{"id":26,"d":2,"t":12.5,"c":44.5},{"id":26,"d":2,"t":13,"c":62.0},{"id":26,"d":2,"t":13.75,"c":73.5},{"id":26,"d":2,"t":14.75,"c":74.2},{"id":26,"d":2,"t":17,"c":57.7},{"id":26,"d":2,"t":20,"c":36.5},{"id":26,"d":2,"t":24,"c":20.4},{"id":26,"d":3,"t":24,"c":20.4},{"id":26,"d":3,"t":24.25,"c":37.4},{"id":26,"d":3,"t":24.5,"c":50.4},{"id":26,"d":3,"t":25,"c":67.7},{"id":26,"d":3,"t":25.75,"c":78.8},{"id":26,"d":3,"t":26.75,"c":79.1},{"id":26,"d":3,"t":29,"c":62.3},{"id":26,"d":3,"t":32,"c":40.8},{"id":26,"d":3,"t":36,"c":24.6},{"id":26,"d":4,"t":36,"c":24.6},{"id":26,"d":4,"t":36.25,"c":41.5},{"id":26,"d":4,"t":36.5,"c":54.6},{"id":26,"d":4,"t":37,"c":71.8},{"id":26,"d":4,"t":37.75,"c":82.8},{"id":26,"d":4,"t":38.75,"c":83.1},{"id":26,"d":4,"t":41,"c":66.2},{"id":26,"d":4,"t":44,"c":44.6},{"id":26,"d":4,"t":48,"c":28.4},
{"id":27,"d":1,"t":0,"c":1},{"id":27,"d":1,"t":0.25,"c":16.4},{"id":27,"d":1,"t":0.5,"c":27.5},{"id":27,"d":1,"t":1,"c":39.8},{"id":27,"d":1,"t":1.75,"c":44.4},{"id":27,"d":1,"t":2.75,"c":40.5},{"id":27,"d":1,"t":5,"c":26.1},{"id":27,"d":1,"t":8,"c":13.3},{"id":27,"d":1,"t":12,"c":5.35},{"id":27,"d":2,"t":12,"c":5.35},{"id":27,"d":2,"t":12.25,"c":21.4},{"id":27,"d":2,"t":12.5,"c":32.3},{"id":27,"d":2,"t":13,"c":44.0},{"id":27,"d":2,"t":13.75,"c":48.1},{"id":27,"d":2,"t":14.75,"c":43.5},{"id":27,"d":2,"t":17,"c":28.3},{"id":27,"d":2,"t":20,"c":15.2},{"id":27,"d":2,"t":24,"c":7.0},{"id":27,"d":3,"t":24,"c":7.0},{"id":27,"d":3,"t":24.25,"c":23.0},{"id":27,"d":3,"t":24.5,"c":33.7},{"id":27,"d":3,"t":25,"c":45.4},{"id":27,"d":3,"t":25.75,"c":49.4},{"id":27,"d":3,"t":26.75,"c":44.8},{"id":27,"d":3,"t":29,"c":29.5},{"id":27,"d":3,"t":32,"c":16.2},{"id":27,"d":3,"t":36,"c":8.0},{"id":27,"d":4,"t":36,"c":8.0},{"id":27,"d":4,"t":36.25,"c":24.0},{"id":27,"d":4,"t":36.5,"c":34.8},{"id":27,"d":4,"t":37,"c":46.4},{"id":27,"d":4,"t":37.75,"c":50.4},{"id":27,"d":4,"t":38.75,"c":45.7},{"id":27,"d":4,"t":41,"c":30.4},{"id":27,"d":4,"t":44,"c":17.1},{"id":27,"d":4,"t":48,"c":8.9},
{"id":28,"d":1,"t":0,"c":1},{"id":28,"d":1,"t":0.25,"c":17.1},{"id":28,"d":1,"t":0.5,"c":30.1},{"id":28,"d":1,"t":1,"c":46.7},{"id":28,"d":1,"t":1.75,"c":56.8},{"id":28,"d":1,"t":2.75,"c":56.5},{"id":28,"d":1,"t":5,"c":40.7},{"id":28,"d":1,"t":8,"c":22.4},{"id":28,"d":1,"t":12,"c":9.65},{"id":28,"d":2,"t":12,"c":9.65},{"id":28,"d":2,"t":12.25,"c":26.3},{"id":28,"d":2,"t":12.5,"c":38.7},{"id":28,"d":2,"t":13,"c":54.6},{"id":28,"d":2,"t":13.75,"c":63.8},{"id":28,"d":2,"t":14.75,"c":62.5},{"id":28,"d":2,"t":17,"c":45.6},{"id":28,"d":2,"t":20,"c":26.7},{"id":28,"d":2,"t":24,"c":13.6},{"id":28,"d":3,"t":24,"c":13.6},{"id":28,"d":3,"t":24.25,"c":30.1},{"id":28,"d":3,"t":24.5,"c":42.4},{"id":28,"d":3,"t":25,"c":58.1},{"id":28,"d":3,"t":25.75,"c":67.0},{"id":28,"d":3,"t":26.75,"c":65.5},{"id":28,"d":3,"t":29,"c":48.4},{"id":28,"d":3,"t":32,"c":29.2},{"id":28,"d":3,"t":36,"c":16.1},{"id":28,"d":4,"t":36,"c":16.1},{"id":28,"d":4,"t":36.25,"c":32.6},{"id":28,"d":4,"t":36.5,"c":44.9},{"id":28,"d":4,"t":37,"c":60.5},{"id":28,"d":4,"t":37.75,"c":69.4},{"id":28,"d":4,"t":38.75,"c":68.0},{"id":28,"d":4,"t":41,"c":50.7},{"id":28,"d":4,"t":44,"c":31.6},{"id":28,"d":4,"t":48,"c":18.5},
{"id":29,"d":1,"t":0,"c":1},{"id":29,"d":1,"t":0.25,"c":17.4},{"id":29,"d":1,"t":0.5,"c":30.0},{"id":29,"d":1,"t":1,"c":45.2},{"id":29,"d":1,"t":1.75,"c":53.0},{"id":29,"d":1,"t":2.75,"c":50.6},{"id":29,"d":1,"t":5,"c":34.4},{"id":29,"d":1,"t":8,"c":18.1},{"id":29,"d":1,"t":12,"c":7.45},{"id":29,"d":2,"t":12,"c":7.45},{"id":29,"d":2,"t":12.25,"c":24.4},{"id":29,"d":2,"t":12.5,"c":36.6},{"id":29,"d":2,"t":13,"c":51.2},{"id":29,"d":2,"t":13.75,"c":58.2},{"id":29,"d":2,"t":14.75,"c":55.0},{"id":29,"d":2,"t":17,"c":37.9},{"id":29,"d":2,"t":20,"c":21.1},{"id":29,"d":2,"t":24,"c":10.1},{"id":29,"d":3,"t":24,"c":10.1},{"id":29,"d":3,"t":24.25,"c":27.0},{"id":29,"d":3,"t":24.5,"c":39.0},{"id":29,"d":3,"t":25,"c":53.5},{"id":29,"d":3,"t":25.75,"c":60.4},{"id":29,"d":3,"t":26.75,"c":57.1},{"id":29,"d":3,"t":29,"c":39.8},{"id":29,"d":3,"t":32,"c":22.8},{"id":29,"d":3,"t":36,"c":11.8},{"id":29,"d":4,"t":36,"c":11.8},{"id":29,"d":4,"t":36.25,"c":28.6},{"id":29,"d":4,"t":36.5,"c":40.7},{"id":29,"d":4,"t":37,"c":55.2},{"id":29,"d":4,"t":37.75,"c":62.0},{"id":29,"d":4,"t":38.75,"c":58.7},{"id":29,"d":4,"t":41,"c":41.4},{"id":29,"d":4,"t":44,"c":24.4},{"id":29,"d":4,"t":48,"c":13.4}
]},
"layer":[
{"transform":[{"filter":"datum.id == 1"}],
 "mark":{"type":"line","opacity":0},
 "encoding":{
  "x":{"field":"t","type":"quantitative","scale":{"domain":[-2.36,50.4],"nice":false,"zero":false},
   "axis":{"orient":"bottom","values":[6,18,30,42],"grid":true,"gridColor":"#e9e9dc","gridWidth":2,"labels":false,"ticks":false,"domain":false,"title":null}},
  "y":{"field":"c","type":"quantitative","scale":{"type":"log","domain":[2.59,139.7],"nice":false},
   "axis":{"orient":"left","values":[4,5,6,7,8,9,20,40,50,60,70,80,90],"grid":true,"gridColor":"#e9e9dc","gridWidth":2,"labels":false,"ticks":false,"domain":false,"title":null}},
  "detail":{"field":"d","type":"nominal"}
 }},
{"mark":{"type":"line","interpolate":"monotone","color":"black","opacity":0.22,"strokeWidth":5.5,"clip":true},
 "encoding":{
  "x":{"field":"t","type":"quantitative","scale":{"domain":[-2.36,50.4],"nice":false,"zero":false},
   "axis":{"orient":"bottom","values":[0,12,24,36,48],"grid":true,"gridColor":"#b9b9ab","gridWidth":2.2,"domain":false,"ticks":true,"tickColor":"#7f7f7a","tickWidth":2,"tickSize":7,"labelFont":"DejaVu Sans","labelFontSize":22,"labelColor":"#7f7f78","labelPadding":5,"title":"Time [hour]","titleFont":"DejaVu Sans","titleFontSize":30,"titleFontWeight":"bold","titleColor":"#7f7f78","titlePadding":8}},
  "y":{"field":"c","type":"quantitative","scale":{"type":"log","domain":[2.59,139.7],"nice":false},
   "axis":{"orient":"left","values":[3,10,30,100],"format":"d","grid":true,"gridColor":"#b9b9ab","gridWidth":2.2,"domain":false,"ticks":true,"tickColor":"#7f7f7a","tickWidth":2,"tickSize":7,"labelFont":"DejaVu Sans","labelFontSize":22,"labelColor":"#7f7f78","labelPadding":8,"title":"Concentration","titleFont":"DejaVu Sans","titleFontSize":30,"titleFontWeight":"bold","titleColor":"#7f7f78","titlePadding":9}},
  "detail":[{"field":"id","type":"nominal"},{"field":"d","type":"nominal"}]
 }},
{"transform":[{"filter":{"field":"id","oneOf":[4,5,6,7,8,9,10,11,12,13,14,15,16,17,18,19,20,21,26,27,28,29]}}],
 "mark":{"type":"line","interpolate":"monotone","color":"black","opacity":0.35,"strokeWidth":5.5,"clip":true},
 "encoding":{
  "x":{"field":"t","type":"quantitative","scale":{"domain":[-2.36,50.4],"nice":false,"zero":false},"axis":null},
  "y":{"field":"c","type":"quantitative","scale":{"type":"log","domain":[2.59,139.7],"nice":false},"axis":null},
  "detail":[{"field":"id","type":"nominal"},{"field":"d","type":"nominal"}]
 }}
],
"resolve":{"axis":{"x":"independent","y":"independent"}}
}
